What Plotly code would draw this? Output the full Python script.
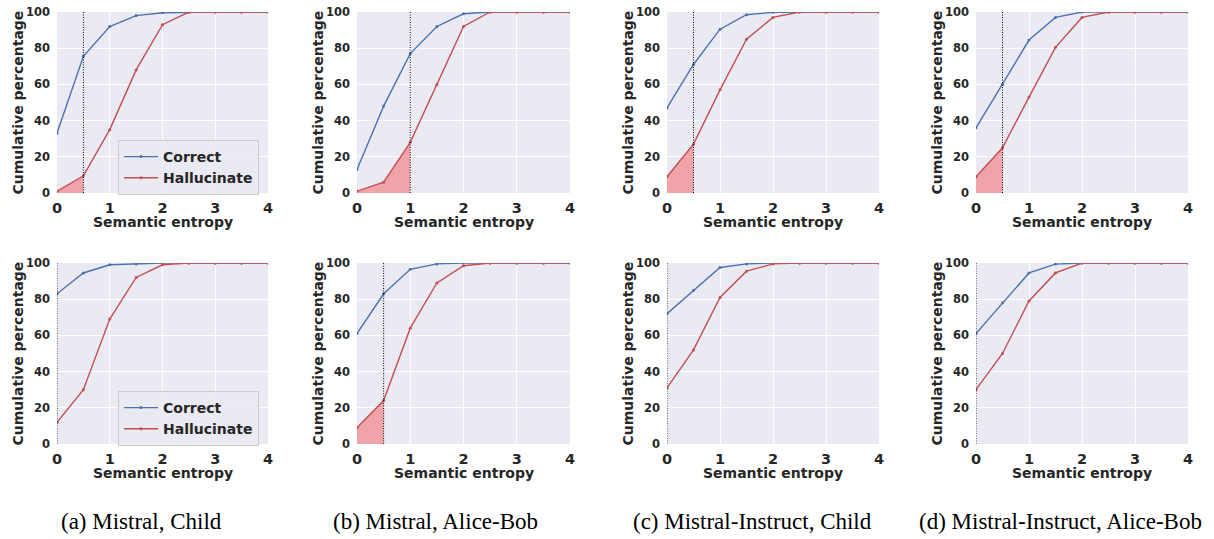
import plotly.graph_objects as go

entropy = [0, 0.5, 1, 1.5, 2, 2.5, 3, 3.5, 4]

# top row
a_correct = [33, 75.5, 92, 98, 99.6, 100, 100, 100, 100]
a_halluc = [1, 9.5, 35, 68, 93, 100, 100, 100, 100]
b_correct = [13, 48, 77, 92, 99, 100, 100, 100, 100]
b_halluc = [1, 6, 28, 60, 92, 100, 100, 100, 100]
c_correct = [47, 71, 90.5, 98.5, 99.8, 100, 100, 100, 100]
c_halluc = [9, 27, 57, 85, 97, 100, 100, 100, 100]
d_correct = [36, 60, 84.5, 97, 100, 100, 100, 100, 100]
d_halluc = [9, 25, 53, 80.5, 97, 100, 100, 100, 100]
# bottom row
e_correct = [83, 94.5, 99, 99.5, 100, 100, 100, 100, 100]
e_halluc = [12, 30, 69, 92, 99, 100, 100, 100, 100]
f_correct = [61, 83, 96.5, 99.5, 100, 100, 100, 100, 100]
f_halluc = [9, 24, 64, 89, 98.5, 100, 100, 100, 100]
g_correct = [72, 85, 97.5, 99.5, 100, 100, 100, 100, 100]
g_halluc = [31, 52, 81, 95.5, 99.5, 100, 100, 100, 100]
h_correct = [61, 78, 94.5, 99.4, 100, 100, 100, 100, 100]
h_halluc = [30, 50, 79, 94.5, 100, 100, 100, 100, 100]

thresholds = [0.5, 1.0, 0.5, 0.5, 0, 0.5, 0, 0]
correct_series = [a_correct, b_correct, c_correct, d_correct,
                  e_correct, f_correct, g_correct, h_correct]
halluc_series = [a_halluc, b_halluc, c_halluc, d_halluc,
                 e_halluc, f_halluc, g_halluc, h_halluc]
captions = ["(a) Mistral, Child", "(b) Mistral, Alice-Bob",
            "(c) Mistral-Instruct, Child", "(d) Mistral-Instruct, Alice-Bob"]
x_ticks = [0, 1, 2, 3, 4]
y_ticks = [0, 20, 40, 60, 80, 100]

W, H = 1214, 539
col_px = [(57, 268), (357, 570), (667, 879), (976, 1188)]
row_px = [(12, 193), (263, 444)]

BLUE = "#4C72B0"
RED = "#C44E52"
TXT = "#262626"
FONT = "DejaVu Sans"

fig = go.Figure()
layout = dict(
    width=W, height=H, margin=dict(l=0, r=0, t=0, b=0, autoexpand=False),
    paper_bgcolor="white", plot_bgcolor="#EAEAF2",
    showlegend=True, annotations=[], shapes=[],
)

legend_cfg = dict(
    bgcolor="rgba(234,234,242,0.85)", bordercolor="#CCCCCC", borderwidth=1,
    font=dict(family=FONT, size=14, color=TXT, weight="bold"),
    itemwidth=34, tracegroupgap=0, xanchor="left", yanchor="top",
)

for i in range(8):
    r, c = divmod(i, 4)
    n = i + 1
    xa = "x" if n == 1 else f"x{n}"
    ya = "y" if n == 1 else f"y{n}"
    x0, x1 = col_px[c]
    y0, y1 = row_px[r]
    axis_common = dict(
        showgrid=True, gridcolor="white", gridwidth=1.2, zeroline=False,
        showline=False, ticks="", automargin=False,
    )
    layout["xaxis" if n == 1 else f"xaxis{n}"] = dict(
        axis_common, domain=[x0 / W, x1 / W], range=[0, 4], anchor=ya,
        tickvals=x_ticks, ticklabelstandoff=4,
        tickfont=dict(family=FONT, size=14.5, color=TXT, weight="bold"),
    )
    layout["yaxis" if n == 1 else f"yaxis{n}"] = dict(
        axis_common, domain=[1 - y1 / H, 1 - y0 / H], range=[0, 100], anchor=xa,
        tickvals=y_ticks, ticklabelstandoff=6,
        tickfont=dict(family=FONT, size=11.5, color=TXT, weight="bold"),
    )

    t = thresholds[i]
    hv = halluc_series[i]
    fx = [x for x in entropy if x <= t]
    fy = [hv[k] for k, x in enumerate(entropy) if x <= t]
    if len(fx) > 1:
        fig.add_trace(go.Scatter(
            x=fx, y=fy, xaxis=xa, yaxis=ya, mode="lines", fill="tozeroy",
            fillcolor="rgba(255,0,0,0.3)", line=dict(width=0),
            showlegend=False, hoverinfo="skip"))

    legend_name = None
    if n == 1:
        legend_name = "legend"
    elif n == 5:
        legend_name = "legend2"
    fig.add_trace(go.Scatter(
        x=entropy, y=correct_series[i], xaxis=xa, yaxis=ya, name="Correct",
        mode="lines+markers", line=dict(color=BLUE, width=1.4),
        marker=dict(size=3, color=BLUE),
        showlegend=legend_name is not None, legend=legend_name or "legend"))
    fig.add_trace(go.Scatter(
        x=entropy, y=hv, xaxis=xa, yaxis=ya, name="Hallucinate",
        mode="lines+markers", line=dict(color=RED, width=1.4),
        marker=dict(size=3, color=RED),
        showlegend=legend_name is not None, legend=legend_name or "legend"))

    layout["shapes"].append(dict(
        type="line", xref=xa, yref=ya, x0=t, x1=t, y0=0, y1=100,
        line=dict(color="black", width=1, dash="1px,1.5px"), layer="above"))

    layout["annotations"].append(dict(
        text="Semantic entropy", xref=f"{xa} domain", yref=f"{ya} domain",
        x=0.5, y=0, yshift=-29, xanchor="center", yanchor="middle",
        showarrow=False, font=dict(family=FONT, size=14, color=TXT, weight="bold")))
    layout["annotations"].append(dict(
        text="Cumulative percentage", xref=f"{xa} domain", yref=f"{ya} domain",
        x=0, y=0.5, xshift=-40, xanchor="center", yanchor="middle", textangle=-90,
        showarrow=False, font=dict(family=FONT, size=14, color=TXT, weight="bold")))

caption_centers = [141, 435, 752, 1060]
for cx, txt in zip(caption_centers, captions):
    layout["annotations"].append(dict(
        text=txt, xref="paper", yref="paper", x=cx / W, y=1 - 521 / H,
        xanchor="center", yanchor="middle", showarrow=False,
        font=dict(family="Liberation Serif", size=23, color="black")))

layout["legend"] = dict(legend_cfg, x=118 / W, y=1 - 140 / H)
layout["legend2"] = dict(legend_cfg, x=118 / W, y=1 - 391 / H)

fig.update_layout(**layout)
fig.write_html(
    "out.html",
    config={"displayModeBar": False},
    post_script="document.body.style.margin='0';document.body.style.padding='0';",
)
